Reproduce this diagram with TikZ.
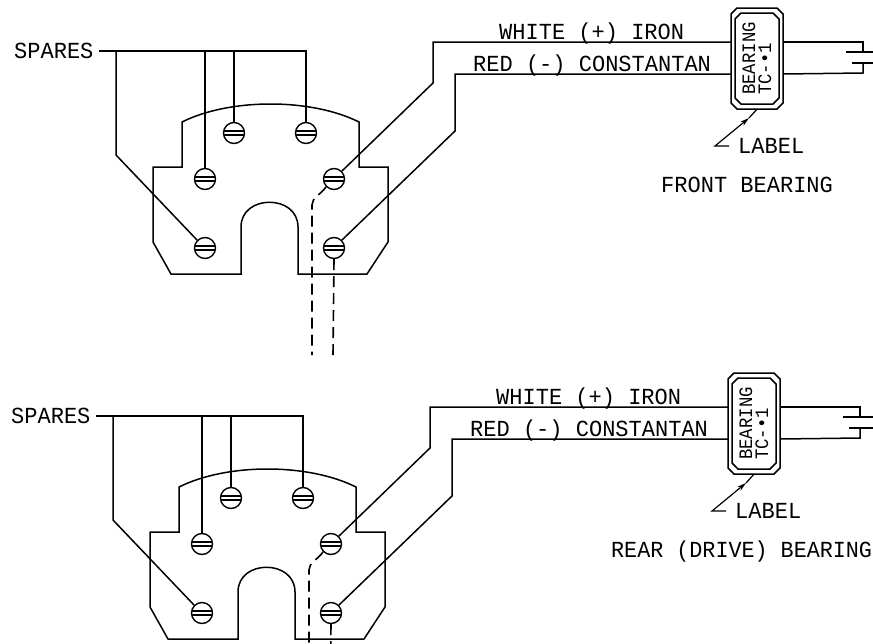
\documentclass[tikz,border=0pt]{standalone}
\usepackage{fontspec}
\setmonofont[FakeStretch=0.957]{Liberation Mono}
\newfontfamily\rearfont[FakeStretch=0.945]{Liberation Mono}
\newfontfamily\tagfont[FakeStretch=0.91]{Liberation Mono}
\usetikzlibrary{arrows.meta}
\tikzset{
  wire/.style={line width=1.5pt,line join=miter},
  plate/.style={line width=1.5pt,line join=miter},
  dashwire/.style={line width=1.6pt,dash pattern=on 11pt off 6pt},
  screw/.style={circle,draw,line width=1.4pt,minimum size=21pt,inner sep=0pt,
    path picture={
      \draw[line width=1.3pt] ([yshift=2pt]path picture bounding box.west) -- ([yshift=2pt]path picture bounding box.east);
      \draw[line width=1.3pt] ([yshift=-2pt]path picture bounding box.west) -- ([yshift=-2pt]path picture bounding box.east);
    }},
  lbl/.style={inner sep=0pt,anchor=base west,font=\ttfamily\fontsize{23}{23}\selectfont},
  smalllbl/.style={inner sep=0pt,anchor=base west,rotate=90,font=\tagfont\fontsize{19}{19}\selectfont},
  tagbox/.style={minimum width=52pt,minimum height=101pt,inner sep=0pt},
  tagline/.style={line width=1.5pt,line join=miter},
}
\newcommand{\bearingassy}[5]{%
\begin{scope}[shift={(#1,#2)},name prefix=#3-]
  % plate
  \draw[plate] (182,122) .. controls (230,98) and (311,98) .. (359,122)
    -- (359,167) -- (388,167) -- (388,242) -- (367,274) -- (298,274) -- (298,227)
    .. controls (298,194) and (241,194) .. (241,227)
    -- (241,274) -- (171,274) -- (153,242) -- (153,167) -- (182,167) -- cycle;
  % screws
  \node[screw] (s1) at (205,248) {};
  \node[screw] (s2) at (205,179) {};
  \node[screw] (s3) at (234,133) {};
  \node[screw] (s4) at (306,133) {};
  \node[screw] (s5) at (334,179) {};
  \node[screw] (s6) at (334,248) {};
  % spares
  \node[lbl] (spares) at (14,58) {SPARES};
  \coordinate (j0) at (99,51);
  \coordinate (j1) at (116,51);
  \coordinate (j1b) at (116,155);
  \coordinate (j2) at (205,51);
  \coordinate (j3) at (234,51);
  \coordinate (j4) at (306,51);
  \draw[wire] (j0) -- (j4) -- (s4.north);
  \draw[wire] (j3) -- (s3.north);
  \draw[wire] (j2) -- (s2.north);
  \draw[wire] (j1) -- (j1b) -- (s1.north west);
  % thermocouple tag
  \node[tagbox] (tago) at (757,58.5) {};
  \draw[tagline] (737,8) -- (777,8) -- (783,14) -- (783,103) -- (777,109) -- (737,109) -- (731,103) -- (731,14) -- cycle;
  \draw[tagline] (741,13) -- (773,13) -- (779,19) -- (779,98) -- (773,104) -- (741,104) -- (735,98) -- (735,19) -- cycle;
  \node[smalllbl] (t1) at (755,95) {BEARING};
  \node[smalllbl] (t2) at (771,95) {TC-•1};
  % white and red leads
  \coordinate (w1) at (433,42);
  \coordinate (w2) at (433,83);
  \coordinate (r1) at (455,74);
  \coordinate (r2) at (455,131);
  \draw[wire] (s5.north east) -- (w2) -- (w1) -- (w1 -| tago.west);
  \draw[wire] (s6.north east) -- (r2) -- (r1) -- (r1 -| tago.west);
  \node[lbl] (white) at (499,39) {WHITE (+) IRON};
  \node[lbl] (red) at (473,71) {RED (-) CONSTANTAN};
  % capacitor-like junction
  \coordinate (w3) at (863,42);
  \coordinate (w4) at (863,52);
  \coordinate (r3) at (863,73);
  \coordinate (r4) at (863,63);
  \coordinate (p1) at (846,52);
  \coordinate (p2) at (880,52);
  \coordinate (p3) at (852,63);
  \coordinate (p4) at (880,63);
  \draw[wire] (w1 -| tago.east) -- (w3) -- (w4);
  \draw[wire] (r1 -| tago.east) -- (r3) -- (r4);
  \draw[wire] (p1) -- (p2);
  \draw[wire] (p3) -- (p4);
  % label leader
  \node[lbl] (lab) at (738,153) {LABEL};
  \coordinate (l1) at (729,146);
  \coordinate (l2) at (715,146);
  \coordinate (l3) at (749,118);
  \draw[line width=1.2pt,-{Stealth[length=9pt,width=5pt]}] (l1) -- (l2) -- (l3);
  \draw[line width=1.2pt] (l3) -- (tago.south);
  % caption
  \node[lbl] (cap) at (#4,192) {#5};
  % dashed leads
  \coordinate (d1) at (312,205);
  \coordinate (d2) at (312,355);
  \coordinate (d3) at (333,355);
  \draw[dashwire] (s5.south west) .. controls (320,195) and (312,198) .. (d1) -- (d2);
  \draw[dashwire] (s6.south) -- (d3);
\end{scope}}
\begin{document}
\begin{tikzpicture}[x=1pt,y=-1pt]
  \useasboundingbox (0,0) rectangle (873,643);
  \clip (0,0) rectangle (873,643);
  \bearingassy{0}{0}{a}{661}{FRONT BEARING}
  \bearingassy{-3}{365}{b}{614}{\rearfont REAR (DRIVE) BEARING}
\end{tikzpicture}
\end{document}
